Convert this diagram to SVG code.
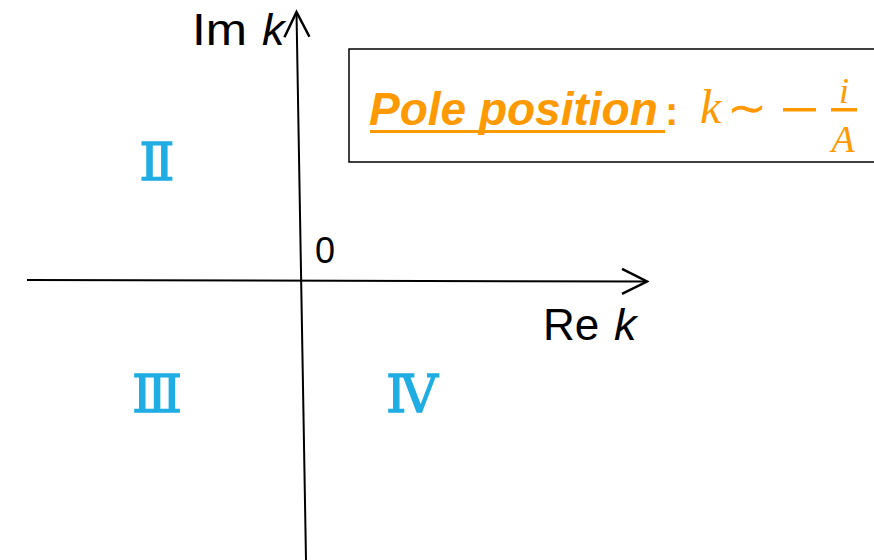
<svg xmlns="http://www.w3.org/2000/svg" width="874" height="560" viewBox="0 0 874 560">
<style>
.lbl{font-family:"Liberation Sans",Arial,sans-serif;fill:#000}
.it{font-style:italic}
.rom{font-family:"DejaVu Serif","Liberation Serif",serif;fill:#1FADE3;stroke:#1FADE3;stroke-width:1.3;font-size:52px}
.or{fill:#FF9900}
.math{font-family:"Liberation Serif","DejaVu Serif",serif;font-style:italic;fill:#FF9900}
.ax{stroke:#000;stroke-width:2;fill:none}
</style>
<defs>
<marker id="arr" markerUnits="userSpaceOnUse" markerWidth="30" markerHeight="30" viewBox="-22 -12 24 24" refX="0" refY="0" orient="auto">
<path d="M-20,-10 L0,0 L-20,10" fill="none" stroke="#000" stroke-width="2"/>
</marker>
</defs>
<g id="connectors">
<line class="ax" x1="27" y1="280" x2="647" y2="281.5" marker-end="url(#arr)"/>
<line class="ax" x1="306" y1="560" x2="296.5" y2="12" marker-end="url(#arr)"/>
</g>
<g id="im-label">
<text class="lbl" x="192" y="45" font-size="44" textLength="55" lengthAdjust="spacingAndGlyphs">Im</text>
<text class="lbl it" x="262" y="45" font-size="45">k</text>
</g>
<g id="re-label">
<text class="lbl" x="543" y="340" font-size="44">Re</text>
<text class="lbl it" x="614" y="340" font-size="45">k</text>
</g>
<g id="origin">
<text class="lbl" x="315" y="263" font-size="36">0</text>
</g>
<g id="q2"><text class="rom" x="157" y="180" text-anchor="middle">Ⅱ</text></g>
<g id="q3"><text class="rom" x="157" y="412" text-anchor="middle">Ⅲ</text></g>
<g id="q4"><text class="rom" x="412" y="412" text-anchor="middle">Ⅳ</text></g>
<g id="pole-box">
<rect x="349" y="49" width="540" height="113" fill="#fff" stroke="#000" stroke-width="1.5"/>
<text x="369" y="125" font-family="Liberation Sans,Arial,sans-serif" font-weight="bold" font-style="italic" font-size="46" class="or">Pole position</text>
<rect x="370" y="130" width="295" height="3" class="or"/>
<text x="665" y="125" font-family="Liberation Sans,Arial,sans-serif" font-weight="bold" font-size="40" class="or">:</text>
<text class="math" x="700" y="123" font-size="48">k</text>
<text x="727" y="124" font-family="DejaVu Sans,sans-serif" font-size="48" class="or">∼</text>
<rect x="783" y="108" width="33" height="3.5" class="or"/>
<rect x="831" y="108" width="26" height="3.5" class="or"/>
<text class="math" x="844" y="103" font-size="36" text-anchor="middle">i</text>
<text class="math" x="843" y="152" font-size="38" text-anchor="middle">A</text>
</g>
</svg>
